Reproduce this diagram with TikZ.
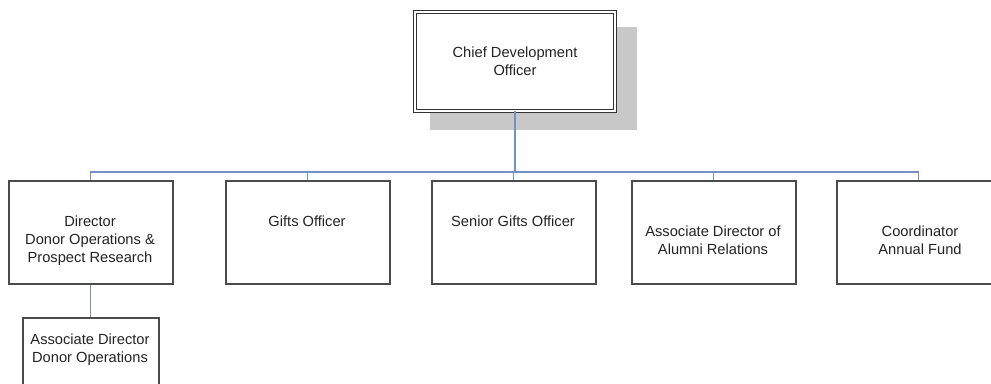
\documentclass[tikz,border=0pt]{standalone}
\usepackage{fontspec}
\setmainfont{Liberation Sans}
\definecolor{boxgray}{RGB}{75,75,75}
\definecolor{connblue}{RGB}{115,145,195}
\definecolor{shadowgray}{RGB}{200,200,200}
\definecolor{txt}{RGB}{35,35,35}
\begin{document}
\begin{tikzpicture}[x=0.75pt,y=-0.75pt,
  box/.style={draw=boxgray, line width=1.15pt, fill=white, inner sep=0pt,
    minimum width=164*0.75pt, minimum height=103*0.75pt, anchor=north west},
  lbl/.style={font=\fontsize{11pt}{13.5pt}\selectfont, align=center, text=txt, inner sep=0pt},
  conn/.style={draw=connblue, line width=1pt}]
\useasboundingbox (0,0) rectangle (991,384);
% shadow of the top box
\fill[shadowgray] (430,27) rectangle (637,130);
% top box (double border)
\node[draw=black!80, line width=0.75pt, double=white, double distance=1.5pt,
  fill=white, minimum width=200*0.75pt, minimum height=99*0.75pt, inner sep=0pt]
  (top) at (515,61.5) {};
\node[lbl] (ttop) at (515,61) {Chief Development\\Officer};
% row of boxes
\node[box] (b1) at (8,180) {};
\node[box] (b2) at (225,180) {};
\node[box] (b3) at (431,180) {};
\node[box] (b4) at (631,180) {};
\node[box] (b5) at (836,180) {};
\node[box, minimum width=136*0.75pt, minimum height=90*0.75pt] (s1) at (22,317) {};
% labels
\node[lbl] (t1) at (90,241) {Director\\Donor Operations \&\\Prospect Research};
\node[lbl] (t2) at (307,221) {Gifts Officer};
\node[lbl] (t3) at (513,221) {Senior Gifts Officer};
\node[lbl] (t4) at (713,240) {Associate Director of\\Alumni Relations};
\node[lbl] (t5) at (920,240) {Coordinator\\Annual Fund};
\node[lbl] (ts) at (90,350) {Associate Director\\Donor Operations};
% connectors
\coordinate (bus) at (0,172);
\draw[conn] (top.south) -- (top.south |- bus);
\draw[conn] (b1.north) |- (bus -| b5.north) -- (b5.north);
\draw[conn] (b2.north) -- (b2.north |- bus);
\draw[conn] (b3.north) -- (b3.north |- bus);
\draw[conn] (b4.north) -- (b4.north |- bus);
\draw[conn] (b1.south) -- (s1.north);
\end{tikzpicture}
\end{document}
